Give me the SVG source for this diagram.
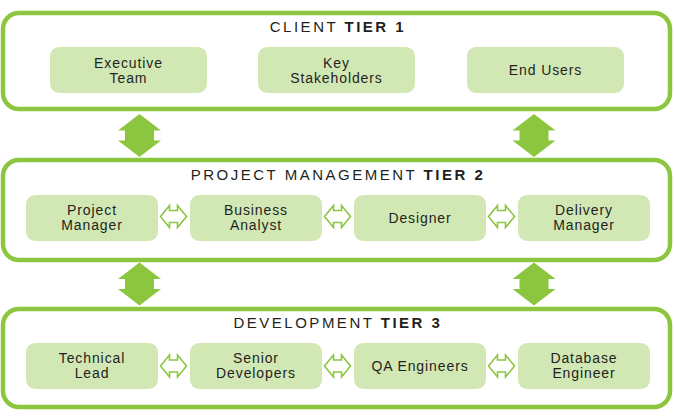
<svg xmlns="http://www.w3.org/2000/svg" width="674" height="416" viewBox="0 0 674 416">
<defs>
<style>
.tier{fill:#fff;stroke:#8cc63f;stroke-width:4.5}
.box{fill:#d2e8b4}
.t{font-family:"Liberation Sans",Arial,sans-serif;font-size:14px;fill:#231f20;text-anchor:middle;letter-spacing:0.9px}
.h{font-family:"Liberation Sans",Arial,sans-serif;font-size:15px;fill:#231f20;text-anchor:middle;letter-spacing:2.5px}
.h tspan.b{font-weight:bold}
.big{fill:#8cc63f}
.sm{fill:#fff;stroke:#8cc63f;stroke-width:1.6;stroke-linejoin:miter}
</style>
<path id="bigA" d="M0,-21.5 L21.5,-5 L14.5,-5 L14.5,5 L21.5,5 L0,21.5 L-21.5,5 L-14.5,5 L-14.5,-5 L-21.5,-5 Z"/>
<path id="smA" d="M-13,0 L-4,-11 L-4,-6 L4,-6 L4,-11 L13,0 L4,11 L4,6 L-4,6 L-4,11 Z"/>
</defs>
<rect width="674" height="416" fill="#fff"/>

<g id="tier1">
<rect class="tier" x="3" y="13" width="667" height="96" rx="16"/>
<text class="h" x="338" y="32">CLIENT <tspan class="b">TIER 1</tspan></text>
</g>
<g id="tier2">
<rect class="tier" x="3" y="160" width="667" height="100" rx="16"/>
<text class="h" x="338" y="180">PROJECT MANAGEMENT <tspan class="b">TIER 2</tspan></text>
</g>
<g id="tier3">
<rect class="tier" x="3" y="309" width="667" height="98" rx="16"/>
<text class="h" x="338" y="328">DEVELOPMENT <tspan class="b">TIER 3</tspan></text>
</g>

<g id="executive-team"><rect class="box" x="50" y="47" width="157" height="46" rx="9"/><text class="t" x="128.5" y="68">Executive</text><text class="t" x="128.5" y="83">Team</text></g>
<g id="key-stakeholders"><rect class="box" x="258" y="47" width="157" height="46" rx="9"/><text class="t" x="336.5" y="68">Key</text><text class="t" x="336.5" y="83">Stakeholders</text></g>
<g id="end-users"><rect class="box" x="467" y="47" width="157" height="46" rx="9"/><text class="t" x="545.5" y="75">End Users</text></g>

<g id="project-manager"><rect class="box" x="26" y="195" width="132" height="46" rx="9"/><text class="t" x="92" y="215">Project</text><text class="t" x="92" y="230">Manager</text></g>
<g id="business-analyst"><rect class="box" x="190" y="195" width="132" height="46" rx="9"/><text class="t" x="256" y="215">Business</text><text class="t" x="256" y="230">Analyst</text></g>
<g id="designer"><rect class="box" x="354" y="195" width="132" height="46" rx="9"/><text class="t" x="420" y="223">Designer</text></g>
<g id="delivery-manager"><rect class="box" x="518" y="195" width="132" height="46" rx="9"/><text class="t" x="584" y="215">Delivery</text><text class="t" x="584" y="230">Manager</text></g>

<g id="technical-lead"><rect class="box" x="26" y="343" width="132" height="46" rx="9"/><text class="t" x="92" y="363">Technical</text><text class="t" x="92" y="378">Lead</text></g>
<g id="senior-developers"><rect class="box" x="190" y="343" width="132" height="46" rx="9"/><text class="t" x="256" y="363">Senior</text><text class="t" x="256" y="378">Developers</text></g>
<g id="qa-engineers"><rect class="box" x="354" y="343" width="132" height="46" rx="9"/><text class="t" x="420" y="371">QA Engineers</text></g>
<g id="database-engineer"><rect class="box" x="518" y="343" width="132" height="46" rx="9"/><text class="t" x="584" y="363">Database</text><text class="t" x="584" y="378">Engineer</text></g>

<g id="connectors">
<use href="#bigA" class="big" x="139.5" y="135.5"/>
<use href="#bigA" class="big" x="534" y="135.5"/>
<use href="#bigA" class="big" x="139.5" y="284"/>
<use href="#bigA" class="big" x="534" y="284"/>
<use href="#smA" class="sm" x="173.5" y="216.5"/>
<use href="#smA" class="sm" x="337.5" y="216.5"/>
<use href="#smA" class="sm" x="501.5" y="216.5"/>
<use href="#smA" class="sm" x="173.5" y="366"/>
<use href="#smA" class="sm" x="337.5" y="366"/>
<use href="#smA" class="sm" x="501.5" y="366"/>
</g>
</svg>
